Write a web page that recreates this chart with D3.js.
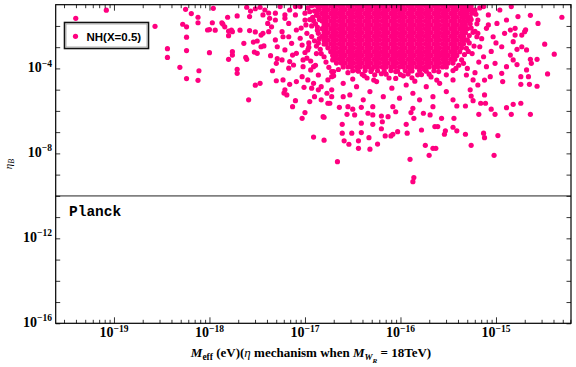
<!DOCTYPE html>
<html>
<head>
<meta charset="utf-8">
<script src="https://cdn.jsdelivr.net/npm/d3@7"></script>
<style>
  body { margin: 0; background: #fff; }
  svg { display: block; }
</style>
</head>
<body>
<div class="svg-area"></div>
<script>
// values are stored as log10(M_eff / eV), log10(eta_B)
let sparsePoints = [
  [-19.40,-1.64],[-19.08,-1.26],[-18.57,-2.02],[-18.44,-3.07],[-18.44,-3.48],[-18.31,-3.95],
  [-18.24,-4.48],[-18.11,-4.11],[-18.12,-4.56],[-18.24,-3.16],[-18.24,-2.53],[-18.24,-2.04],
  [-18.28,-1.92],[-18.25,-1.22],[-18.19,-1.42],[-18.12,-1.59],[-18.12,-1.85],[-18.02,-2.19],
  [-18.00,-2.17],[-18.00,-3.26],[-17.97,-1.85],[-17.94,-2.20],[-17.87,-1.85],[-17.84,-2.04],
  [-17.81,-1.59],[-17.80,-2.24],[-17.80,-2.46],[-17.77,-2.20],[-17.76,-3.21],[-17.80,-3.57],
  [-17.71,-1.53],[-17.68,-2.20],[-17.64,-2.82],[-17.62,-3.48],[-17.61,-3.57],[-17.71,-4.04],
  [-17.71,-4.23],[-17.61,-1.12],[-17.58,-1.56],[-17.57,-1.30],[-17.58,-2.22],[-17.52,-2.28],
  [-17.54,-2.76],[-17.53,-3.23],[-17.50,-3.29],[-17.52,-4.79],[-17.47,-4.70],[-17.59,-5.48],
  [-17.52,-1.19],[-17.47,-1.12],[-17.44,-1.48],[-17.42,-1.25],[-17.38,-1.39],[-17.39,-1.88],
  [-17.50,-2.71],[-17.46,-2.43],[-17.43,-2.94],[-17.36,-3.40],[-17.34,-4.11],[-17.30,-4.58],
  [-17.22,-5.16],[-17.23,-4.54],[-17.13,-5.80],[-17.10,-5.52],[-17.16,-4.75],[-17.03,-6.35],
  [-17.00,-6.08],[-16.91,-7.23],[-16.80,-7.38],[-16.95,-5.56],[-16.81,-6.27],[-16.83,-5.48],
  [-16.76,-5.64],[-17.01,-4.89],[-16.93,-4.93],[-16.97,-4.54],[-17.03,-4.39],[-17.09,-4.62],
  [-17.12,-3.84],[-17.17,-3.99],[-17.24,-3.60],[-17.29,-3.54],[-17.21,-3.13],[-17.13,-3.37],
  [-17.31,-2.66],[-17.24,-2.27],[-17.17,-2.51],[-17.35,-2.04],[-17.31,-1.72],[-17.21,-1.48],
  [-17.16,-1.25],[-17.10,-1.09],[-17.17,-1.88],[-17.09,-2.19],[-17.03,-2.90],[-17.02,-3.60],
  [-16.97,-3.13],[-16.91,-3.92],[-16.86,-4.31],[-16.83,-4.86],[-16.72,-5.01],[-16.72,-5.33],
  [-16.72,-4.39],
  [-14.31,-1.59],[-14.56,-1.88],[-14.64,-1.50],[-14.69,-2.18],[-14.49,-2.86],[-14.39,-3.33],
  [-14.46,-4.26],[-14.57,-4.84],[-14.65,-4.75],[-14.66,-4.39],[-14.74,-4.39],[-14.74,-4.75],
  [-14.68,-4.07],[-14.63,-3.76],[-14.64,-3.57],[-14.57,-3.57],[-14.78,-3.82],[-14.73,-2.98],
  [-14.78,-3.10],[-14.73,-2.43],[-14.80,-2.43],[-14.85,-2.19],[-14.74,-5.64],[-14.82,-5.69],
  [-14.89,-5.85],[-14.84,-6.16],[-14.64,-6.16],[-14.93,-4.62],[-15.01,-6.16],[-15.05,-5.92],
  [-15.18,-6.16],[-15.11,-5.64],[-15.16,-5.64],[-15.12,-5.25],[-15.24,-5.52],[-15.26,-5.30],
  [-15.32,-5.77],[-15.41,-5.77],[-15.44,-6.35],[-15.45,-6.77],[-15.41,-6.94],[-15.32,-7.10],
  [-15.13,-7.05],[-15.12,-7.26],[-14.98,-7.16],[-15.26,-7.62],[-15.02,-8.09],[-15.53,-6.94],
  [-15.54,-7.10],[-15.61,-6.74],[-15.64,-6.74],[-15.57,-6.35],[-15.63,-7.76],[-15.66,-7.76],
  [-15.70,-8.09],[-15.74,-7.62],[-15.86,-9.14],[-15.87,-9.33],[-15.90,-8.28],[-15.78,-6.90],
  [-15.93,-7.05],[-16.03,-6.98],[-16.08,-7.10],[-16.10,-7.18],[-16.16,-7.18],[-16.20,-6.84],
  [-16.24,-7.56],[-16.32,-7.80],[-16.33,-7.26],[-16.41,-7.02],[-16.44,-7.41],[-16.44,-7.76],
  [-16.51,-7.05],[-16.54,-7.57],[-16.59,-7.41],[-16.61,-7.05],[-16.61,-6.63],[-16.66,-8.39],
  [-16.41,-6.58],[-16.29,-6.63],[-16.19,-6.51],[-15.94,-6.63],[-15.86,-6.35],[-15.69,-6.19],
  [-15.76,-6.11],[-15.89,-6.08],[-16.05,-6.04],[-16.13,-6.27],[-16.20,-6.24],[-16.29,-6.19],
  [-16.34,-6.11],[-16.48,-6.19],[-16.56,-6.16],[-16.50,-5.92],[-16.41,-5.83],[-16.64,-5.83],
  [-16.80,-6.30],[-16.74,-5.64],
  [-17.96,-1.17],[-17.86,-1.91],[-17.76,-2.27],[-17.76,-3.37],[-17.46,-2.98],[-17.44,-2.35],
  [-17.38,-2.27],[-17.37,-1.64],[-17.30,-3.76],[-17.21,-5.01],[-17.19,-5.25],[-17.29,-2.98],
  [-17.23,-2.51],[-17.16,-3.68],[-17.14,-2.82],[-17.09,-3.29],[-17.05,-2.58],[-17.02,-3.92],
  [-16.98,-3.52],[-16.94,-4.07],[-16.91,-4.70],[-16.90,-5.33],[-16.86,-5.01],[-16.77,-5.17],
  [-16.76,-4.54],[-16.72,-4.15],[-16.71,-3.60],[-17.31,-1.40],[-17.26,-1.09],[-17.21,-1.64],
  [-17.10,-1.48],[-17.05,-1.09],[-17.00,-1.72],[-16.95,-1.33],[-16.91,-1.01],
  [-17.04,-2.10],[-16.98,-2.35],[-16.93,-2.00],[-16.90,-2.70],[-16.96,-3.00],[-16.88,-3.30],
  [-16.92,-1.60],[-17.00,-3.25],[-16.87,-2.20],[-16.94,-3.65],[-16.89,-3.85],
  [-15.24,-1.25],[-15.19,-1.72],[-15.13,-1.09],[-15.10,-2.11],[-15.08,-1.48],[-15.03,-2.51],
  [-14.99,-1.88],[-14.96,-1.25],[-14.94,-2.98],[-14.91,-2.35],[-14.89,-1.72],[-14.85,-3.37],
  [-14.84,-1.09],[-14.82,-2.74],[-14.80,-2.11],[-14.77,-1.56],[-14.70,-2.27],[-14.68,-3.13],
  [-14.82,-3.60],[-14.89,-3.92],[-14.94,-4.23],[-15.01,-3.76],[-15.06,-4.39],[-15.10,-3.92],
  [-15.13,-3.45],[-15.17,-2.98],[-15.20,-2.51],[-15.24,-4.54],[-15.19,-4.78],[-15.27,-5.01],
  [-15.31,-4.31],[-15.34,-3.76],
  [-15.27,-1.60],[-15.22,-2.25],[-15.28,-2.80],[-15.15,-2.60],[-15.25,-3.30],[-15.18,-3.70],
  [-15.05,-3.20],[-15.00,-2.80],[-15.08,-1.95],[-15.30,-4.00],[-15.22,-4.20],[-15.12,-4.55],
  [-16.60,-4.70],[-16.53,-5.25],[-16.46,-4.86],[-16.39,-5.48],[-16.32,-5.09],[-16.25,-4.62],
  [-16.18,-5.33],[-16.09,-4.93],[-16.01,-5.40],[-15.94,-4.78],[-15.87,-5.17],[-15.80,-5.48],
  [-15.73,-4.86],[-15.66,-5.33],[-15.59,-4.70],[-15.52,-5.09],[-15.45,-4.54],[-16.60,-5.33],
  [-16.55,-5.80],[-16.29,-5.80],[-16.08,-5.80],[-15.87,-5.88],[-15.66,-5.80],[-15.45,-5.48],
  [-16.65,-4.05],[-16.55,-4.20],[-16.45,-4.10],[-16.38,-4.35],[-16.30,-4.05],[-16.20,-4.25],
  [-16.12,-4.45],[-16.05,-4.15],[-15.97,-4.35],[-15.90,-4.10],[-15.82,-4.30],[-15.75,-4.05],
  [-15.68,-4.40],[-15.60,-4.15],[-15.52,-4.30],[-16.50,-4.50],[-16.28,-4.55],[-15.85,-4.60],
  [-15.62,-4.55],[-16.70,-4.35],[-15.45,-4.10]
];

// dense fringe round the edges of the core
let fringePoints = [
  [-16.86,-1.15],[-16.88,-1.50],[-16.85,-1.70],[-16.89,-1.90],[-16.86,-2.35],[-16.85,-2.60],
  [-16.88,-2.95],[-16.84,-3.10],[-16.80,-3.45],[-16.78,-3.70],[-16.75,-3.95],[-16.70,-4.15],
  [-16.95,-1.70],[-16.99,-1.95],[-16.93,-2.50],[-16.96,-2.80],[-17.00,-1.40],[-16.97,-1.15],
  [-16.90,-1.30],[-16.87,-2.05],[-16.86,-2.80],[-16.83,-3.30],[-16.93,-1.05],[-16.91,-1.75],
  [-15.27,-1.10],[-15.25,-1.40],[-15.27,-1.90],[-15.26,-2.10],[-15.28,-2.45],[-15.30,-2.65],
  [-15.31,-3.05],[-15.33,-3.35],[-15.36,-3.60],[-15.39,-3.85],[-15.42,-4.00],[-15.21,-1.45],
  [-15.19,-2.35],[-15.23,-2.95],[-15.17,-1.15],[-15.26,-1.70],[-15.24,-2.30],[-15.29,-3.20],
  [-15.22,-1.25],[-15.20,-1.90],
  [-16.50,-4.11],[-16.44,-4.13],[-16.37,-4.10],[-16.31,-4.14],[-16.24,-4.11],[-16.17,-4.12],
  [-16.10,-4.10],[-16.03,-4.13],[-15.95,-4.11],[-15.88,-4.12],[-15.80,-4.10],[-15.73,-4.13],
  [-15.65,-4.11],[-16.40,-4.28],[-16.27,-4.30],[-16.15,-4.27],[-16.00,-4.29],[-15.92,-4.26],
  [-15.78,-4.29],[-15.70,-4.27],[-16.35,-4.45],[-16.05,-4.47],[-15.88,-4.44]
];

// the solid core of the cloud, one row per eta_B level: [log10 eta_B, [log10 M_eff ...]]
let coreRows = [
  [-1.05, [-16.87,-16.82,-16.78,-16.73,-16.69,-16.64,-16.60,-16.55,-16.51,-16.46,-16.42,-16.37,-16.33,-16.28,-16.24,-16.19,-16.15,-16.10,-16.06,-16.01,-15.97,-15.92,-15.88,-15.83,-15.79,-15.74,-15.70,-15.65,-15.61,-15.56,-15.52,-15.47,-15.43,-15.38,-15.34,-15.30,-15.26]],
  [-1.23, [-16.85,-16.80,-16.76,-16.71,-16.67,-16.62,-16.58,-16.53,-16.49,-16.44,-16.40,-16.35,-16.31,-16.26,-16.22,-16.17,-16.13,-16.08,-16.04,-15.99,-15.95,-15.90,-15.86,-15.81,-15.77,-15.72,-15.68,-15.63,-15.59,-15.54,-15.50,-15.45,-15.41,-15.36,-15.32,-15.28]],
  [-1.41, [-16.87,-16.82,-16.78,-16.73,-16.69,-16.64,-16.60,-16.55,-16.51,-16.46,-16.42,-16.37,-16.33,-16.28,-16.24,-16.19,-16.15,-16.10,-16.06,-16.01,-15.97,-15.92,-15.88,-15.83,-15.79,-15.74,-15.70,-15.65,-15.61,-15.56,-15.52,-15.47,-15.43,-15.38,-15.34,-15.30]],
  [-1.59, [-16.85,-16.80,-16.76,-16.71,-16.67,-16.62,-16.58,-16.53,-16.49,-16.44,-16.40,-16.35,-16.31,-16.26,-16.22,-16.17,-16.13,-16.08,-16.04,-15.99,-15.95,-15.90,-15.86,-15.81,-15.77,-15.72,-15.68,-15.63,-15.59,-15.54,-15.50,-15.45,-15.41,-15.36,-15.32,-15.28]],
  [-1.77, [-16.82,-16.78,-16.73,-16.69,-16.64,-16.60,-16.55,-16.51,-16.46,-16.42,-16.37,-16.33,-16.28,-16.24,-16.19,-16.15,-16.10,-16.06,-16.01,-15.97,-15.92,-15.88,-15.83,-15.79,-15.74,-15.70,-15.65,-15.61,-15.56,-15.52,-15.47,-15.43,-15.38,-15.34,-15.30]],
  [-1.95, [-16.80,-16.76,-16.71,-16.67,-16.62,-16.58,-16.53,-16.49,-16.44,-16.40,-16.35,-16.31,-16.26,-16.22,-16.17,-16.13,-16.08,-16.04,-15.99,-15.95,-15.90,-15.86,-15.81,-15.77,-15.72,-15.68,-15.63,-15.59,-15.54,-15.50,-15.45,-15.41,-15.36,-15.32]],
  [-2.13, [-16.82,-16.78,-16.73,-16.69,-16.64,-16.60,-16.55,-16.51,-16.46,-16.42,-16.37,-16.33,-16.28,-16.24,-16.19,-16.15,-16.10,-16.06,-16.01,-15.97,-15.92,-15.88,-15.83,-15.79,-15.74,-15.70,-15.65,-15.61,-15.56,-15.52,-15.47,-15.43,-15.38,-15.34,-15.30]],
  [-2.31, [-16.80,-16.76,-16.71,-16.67,-16.62,-16.58,-16.53,-16.49,-16.44,-16.40,-16.35,-16.31,-16.26,-16.22,-16.17,-16.13,-16.08,-16.04,-15.99,-15.95,-15.90,-15.86,-15.81,-15.77,-15.72,-15.68,-15.63,-15.59,-15.54,-15.50,-15.45,-15.41,-15.36,-15.32]],
  [-2.49, [-16.82,-16.78,-16.73,-16.69,-16.64,-16.60,-16.55,-16.51,-16.46,-16.42,-16.37,-16.33,-16.28,-16.24,-16.19,-16.15,-16.10,-16.06,-16.01,-15.97,-15.92,-15.88,-15.83,-15.79,-15.74,-15.70,-15.65,-15.61,-15.56,-15.52,-15.47,-15.43,-15.38,-15.34]],
  [-2.67, [-16.80,-16.76,-16.71,-16.67,-16.62,-16.58,-16.53,-16.49,-16.44,-16.40,-16.35,-16.31,-16.26,-16.22,-16.17,-16.13,-16.08,-16.04,-15.99,-15.95,-15.90,-15.86,-15.81,-15.77,-15.72,-15.68,-15.63,-15.59,-15.54,-15.50,-15.45,-15.41,-15.36,-15.32]],
  [-2.85, [-16.80,-16.78,-16.73,-16.69,-16.64,-16.60,-16.55,-16.51,-16.46,-16.42,-16.37,-16.33,-16.28,-16.24,-16.19,-16.15,-16.10,-16.06,-16.01,-15.97,-15.92,-15.88,-15.83,-15.79,-15.74,-15.70,-15.65,-15.61,-15.56,-15.52,-15.47,-15.43,-15.38,-15.34]],
  [-3.03, [-16.76,-16.71,-16.67,-16.62,-16.58,-16.53,-16.49,-16.44,-16.40,-16.35,-16.31,-16.26,-16.22,-16.17,-16.13,-16.08,-16.04,-15.99,-15.95,-15.90,-15.86,-15.81,-15.77,-15.72,-15.68,-15.63,-15.59,-15.54,-15.50,-15.45,-15.41,-15.36]],
  [-3.21, [-16.73,-16.69,-16.64,-16.60,-16.55,-16.51,-16.46,-16.42,-16.37,-16.33,-16.28,-16.24,-16.19,-16.15,-16.10,-16.06,-16.01,-15.97,-15.92,-15.88,-15.83,-15.79,-15.74,-15.70,-15.65,-15.61,-15.56,-15.52,-15.47,-15.43,-15.38]],
  [-3.39, [-16.71,-16.67,-16.62,-16.58,-16.53,-16.49,-16.44,-16.40,-16.35,-16.31,-16.26,-16.22,-16.17,-16.13,-16.08,-16.04,-15.99,-15.95,-15.90,-15.86,-15.81,-15.77,-15.72,-15.68,-15.63,-15.59,-15.54,-15.50,-15.45,-15.41]],
  [-3.57, [-16.69,-16.64,-16.60,-16.55,-16.51,-16.46,-16.42,-16.37,-16.33,-16.28,-16.24,-16.19,-16.15,-16.10,-16.06,-16.01,-15.97,-15.92,-15.88,-15.83,-15.79,-15.74,-15.70,-15.65,-15.61,-15.56,-15.52,-15.47,-15.43]],
  [-3.75, [-16.67,-16.62,-16.58,-16.53,-16.49,-16.44,-16.40,-16.35,-16.31,-16.26,-16.22,-16.17,-16.13,-16.08,-16.04,-15.99,-15.95,-15.90,-15.86,-15.81,-15.77,-15.72,-15.68,-15.63,-15.59,-15.54,-15.50,-15.45]],
  [-3.93, [-16.60,-16.55,-16.51,-16.46,-16.42,-16.37,-16.33,-16.28,-16.24,-16.19,-16.15,-16.10,-16.06,-16.01,-15.97,-15.92,-15.88,-15.83,-15.79,-15.74,-15.70,-15.65,-15.61,-15.56,-15.52]]
];

let xMajorTicks = [1e-19, 1e-18, 1e-17, 1e-16, 1e-15];
let xMajorLabels = ["\u221219", "\u221218", "\u221217", "\u221216", "\u221215"];
let yDecadeTicks = [1e-16, 1e-15, 1e-14, 1e-13, 1e-12, 1e-11, 1e-10, 1e-9, 1e-8, 1e-7, 1e-6, 1e-5, 1e-4, 1e-3, 1e-2];
let yLabelTicks = [1e-16, 1e-12, 1e-8, 1e-4];
let yLabels = ["\u221216", "\u221212", "\u22128", "\u22124"];
let planckEta = 1e-10;
let legendLabel = "NH(X=0.5)";

let W = 576, H = 367;
let pLeft = 55.7, pRight = 571, pTop = 4.7, pBottom = 323.3;
let pink = "#ff0080";

let x = d3.scaleLog().domain([2.455e-20, 6.10e-15]).range([pLeft, pRight]);
let y = d3.scaleLog().domain([1e-16, 1e-1]).range([pBottom, pTop]);

let svg = d3.select(".svg-area").append("svg")
    .attr("width", W)
    .attr("height", H)
    .attr("font-family", "Liberation Serif");

// minor ticks 2..9 per decade inside the x domain
let xMinorTicks = [];
for (let e = -20; e <= -15; e++) {
    for (let m = 2; m <= 9; m++) {
        let v = m * Math.pow(10, e);
        if (v > x.domain()[0] && v < x.domain()[1]) xMinorTicks.push(v);
    }
}

// points
let points = sparsePoints.concat(fringePoints);
coreRows.forEach(function (row) {
    row[1].forEach(function (lx) { points.push([lx, row[0]]); });
});

svg.append("clipPath").attr("id", "plotclip")
    .append("rect")
    .attr("x", pLeft).attr("y", pTop)
    .attr("width", pRight - pLeft).attr("height", pBottom - pTop);

svg.append("g").attr("clip-path", "url(#plotclip)")
    .selectAll("circle").data(points).enter().append("circle")
    .attr("cx", function (d) { return x(Math.pow(10, d[0])); })
    .attr("cy", function (d) { return y(Math.pow(10, d[1])); })
    .attr("r", 2.6)
    .attr("fill", pink);

// Planck line
svg.append("line")
    .attr("x1", pLeft).attr("x2", pRight)
    .attr("y1", y(planckEta)).attr("y2", y(planckEta))
    .attr("stroke", "#808080")
    .attr("stroke-width", 1.6);

svg.append("text")
    .attr("x", 69)
    .attr("y", 216)
    .attr("font-family", "Liberation Mono")
    .attr("font-weight", "bold")
    .attr("font-size", 14.5)
    .attr("fill", "#000")
    .text("Planck");

// axes, ticks pointing into the frame
function tidy(g) {
    g.select(".domain").remove();
    g.selectAll(".tick line").attr("stroke", "#000").attr("stroke-width", 0.8);
    g.selectAll(".tick text").remove();
}

svg.append("g").attr("transform", "translate(0," + pBottom + ")")
    .call(d3.axisBottom(x).tickValues(xMajorTicks).tickSize(-6).tickFormat(""))
    .call(tidy);
svg.append("g").attr("transform", "translate(0," + pBottom + ")")
    .call(d3.axisBottom(x).tickValues(xMinorTicks).tickSize(-3.5).tickFormat(""))
    .call(tidy);
svg.append("g").attr("transform", "translate(0," + pTop + ")")
    .call(d3.axisTop(x).tickValues(xMajorTicks).tickSize(-6).tickFormat(""))
    .call(tidy);
svg.append("g").attr("transform", "translate(0," + pTop + ")")
    .call(d3.axisTop(x).tickValues(xMinorTicks).tickSize(-3.5).tickFormat(""))
    .call(tidy);
svg.append("g").attr("transform", "translate(" + pLeft + ",0)")
    .call(d3.axisLeft(y).tickValues(yDecadeTicks).tickSize(-4.5).tickFormat(""))
    .call(tidy);
svg.append("g").attr("transform", "translate(" + pRight + ",0)")
    .call(d3.axisRight(y).tickValues(yDecadeTicks).tickSize(-4.5).tickFormat(""))
    .call(tidy);

// frame
svg.append("rect")
    .attr("x", pLeft).attr("y", pTop)
    .attr("width", pRight - pLeft).attr("height", pBottom - pTop)
    .attr("fill", "none")
    .attr("stroke", "#000")
    .attr("stroke-width", 1.2);

// tick labels
xMajorTicks.forEach(function (v, i) {
    let t = svg.append("text")
        .attr("x", x(v))
        .attr("y", 337)
        .attr("text-anchor", "middle")
        .attr("font-weight", "bold")
        .attr("font-size", 14);
    t.append("tspan").text("10");
    t.append("tspan").attr("font-size", 9.5).attr("dy", -5.5).text(xMajorLabels[i]);
});

yLabelTicks.forEach(function (v, i) {
    let t = svg.append("text")
        .attr("x", 52)
        .attr("y", y(v) + 3.6)
        .attr("text-anchor", "end")
        .attr("font-weight", "bold")
        .attr("font-size", 14);
    t.append("tspan").text("10");
    t.append("tspan").attr("font-size", 9.5).attr("dy", -5.5).text(yLabels[i]);
});

// axis titles
let xt = svg.append("text")
    .attr("x", 311)
    .attr("y", 357)
    .attr("text-anchor", "middle")
    .attr("font-weight", "bold")
    .attr("font-size", 13);
xt.append("tspan").attr("font-style", "italic").text("M");
xt.append("tspan").attr("font-size", 9.5).attr("dy", 3).text("eff");
xt.append("tspan").attr("dy", -3).text(" (eV)(");
xt.append("tspan").attr("font-style", "italic").attr("font-weight", "normal").text("\u03b7");
xt.append("tspan").text(" mechanism when ");
xt.append("tspan").attr("font-style", "italic").text("M");
xt.append("tspan").attr("font-style", "italic").attr("font-size", 9).attr("dy", 3).text("W");
xt.append("tspan").attr("font-style", "italic").attr("font-size", 7).attr("dy", 3).text("R");
xt.append("tspan").attr("dy", -6).text(" = 18TeV)");

let yt = svg.append("text")
    .attr("transform", "translate(12,164) rotate(-90)")
    .attr("text-anchor", "middle")
    .attr("font-style", "italic")
    .attr("font-size", 11);
yt.append("tspan").text("\u03b7");
yt.append("tspan").attr("font-size", 8).attr("dy", 2).text("B");

// legend
svg.append("rect")
    .attr("x", 64.5).attr("y", 22.5).attr("width", 84).attr("height", 26)
    .attr("fill", "#fff").attr("stroke", "#111").attr("stroke-width", 1.6);
svg.append("rect")
    .attr("x", 66).attr("y", 24).attr("width", 81).attr("height", 23)
    .attr("fill", "none").attr("stroke", "#999").attr("stroke-width", 0.8);
svg.append("circle")
    .attr("cx", 75.5).attr("cy", 36.3).attr("r", 2.6).attr("fill", pink);
svg.append("text")
    .attr("x", 86.5)
    .attr("y", 40.5)
    .attr("font-family", "Liberation Sans")
    .attr("font-weight", "bold")
    .attr("font-size", 11.5)
    .text(legendLabel);
</script>
</body>
</html>
